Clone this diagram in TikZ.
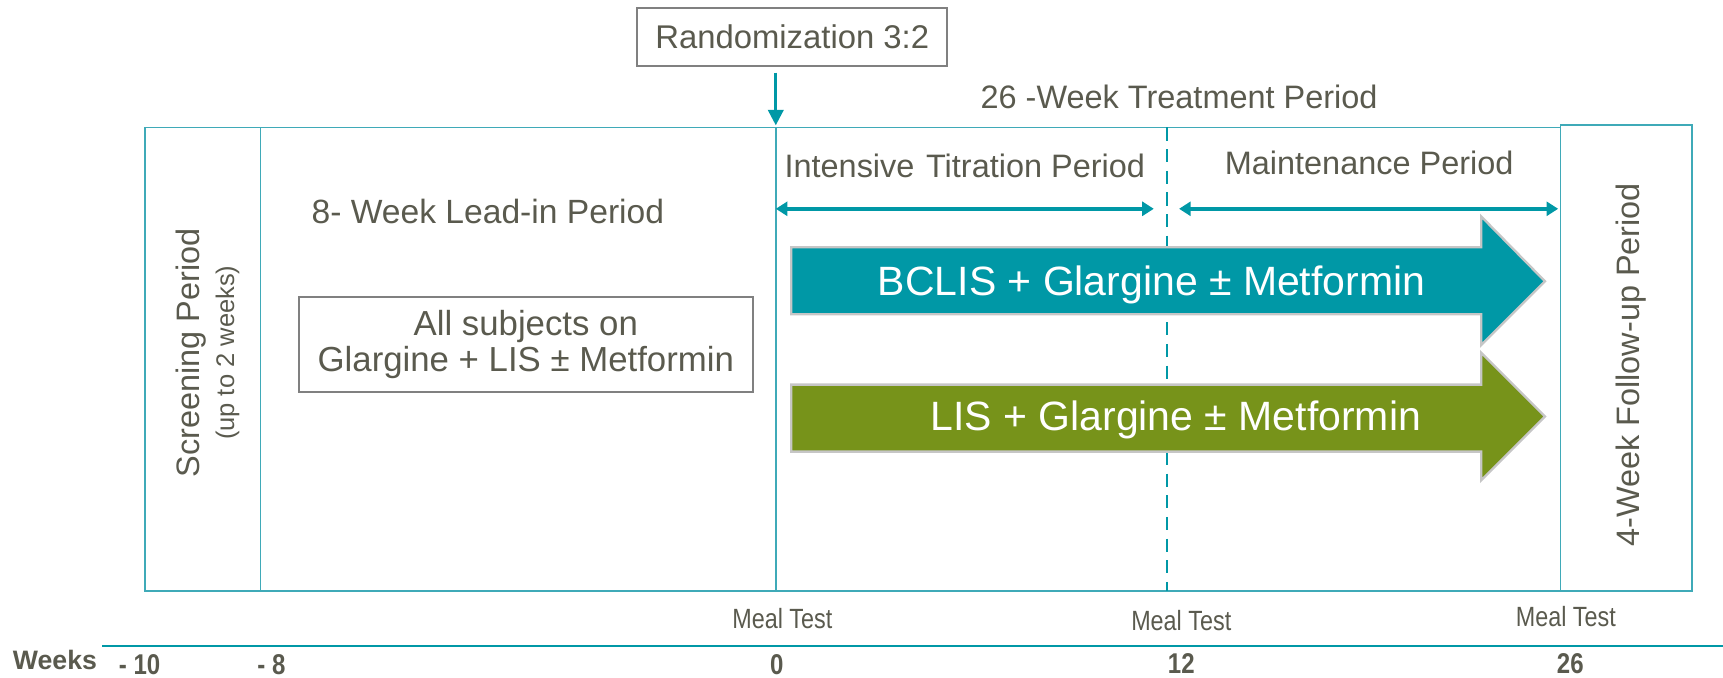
\documentclass[tikz,border=0pt]{standalone}
\usepackage{fontspec}
\setmainfont{Liberation Sans}
\newfontfamily\narrowfont[FakeStretch=0.84]{Liberation Sans}
\usetikzlibrary{positioning,arrows.meta}
\definecolor{studyteal}{HTML}{0098A6}
\definecolor{frameteal}{HTML}{3FAAB8}
\definecolor{studygreen}{HTML}{77931A}
\definecolor{txtgray}{HTML}{5A5A4E}
\tikzset{
  period/.style={text=txtgray, inner sep=0pt, font=\fontsize{8.4}{10}\selectfont},
  frame/.style={draw=frameteal, line width=0.45pt},
  greybox/.style={draw=gray, line width=0.45pt, text=txtgray, align=center, inner sep=0pt},
  span/.style={draw=studyteal, line width=0.9pt, {Triangle[length=3pt,width=3.6pt]}-{Triangle[length=3pt,width=3.6pt]}},
  armarrow/.style={draw=gray!45, line width=0.6pt},
  armtext/.style={text=white, inner sep=0pt, anchor=base, font=\fontsize{10.6}{12}\selectfont},
  mealtest/.style={text=txtgray, inner sep=0pt, font=\narrowfont\fontsize{7.2}{8}\selectfont},
  weeknum/.style={text=txtgray, inner sep=0pt, font=\narrowfont\bfseries\fontsize{7.4}{8}\selectfont}
}

\begin{document}
\begin{tikzpicture}[x=0.01cm, y=-0.01cm]
\useasboundingbox (0,0) rectangle (1568,617);
% periods
\draw[frame] (132,116) rectangle (1420,538);
\draw[frame] (237,116) -- (237,538);
\draw[frame] (706,116) -- (706,538);
\draw[frame] (1420,114) rectangle (1540,538);
\draw[studyteal, line width=0.75pt, dash pattern=on 3.4pt off 2.2pt] (1062,116) -- (1062,538);

\node[period, rotate=90] (screen) at (174,321) {Screening Period};
\node[period, rotate=90, font=\fontsize{6.6}{8}\selectfont] (screenlen) at (207,321) {(up to 2 weeks)};
\node[period, rotate=90] (followup) at (1484,332) {4-Week Follow-up Period};

\node[greybox, minimum width=2.82cm, minimum height=0.53cm, font=\fontsize{8.5}{10}\selectfont] (rand) at (721,33.5) {Randomization 3:2};
\node[period] (treat) at (1073,88) {26 -Week Treatment Period};
\node[period] (titr) at (878,151) {Intensive\hspace{0.08em} Titration Period};
\node[period] (maint) at (1246,148) {Maintenance Period};
\node[period, font=\fontsize{8.7}{10}\selectfont] (leadin) at (444,192) {8- Week Lead-in Period};
\node[greybox, minimum width=4.13cm, minimum height=0.87cm, font=\fontsize{9}{9.4}\selectfont] (allsub) at (478.5,313.5) {All subjects on\\Glargine + LIS ± Metformin};

\coordinate (rtip) at (706,114);
\draw[studyteal, line width=0.7pt, -{Triangle[length=4pt,width=4pt]}, shorten <=1.5pt] (rand.south -| rtip) -- (rtip);

\coordinate (itA) at (706,190);
\coordinate (itB) at (1050,190);
\coordinate (mpA) at (1073,190);
\coordinate (mpB) at (1418,190);
\draw[span] (itA) -- (itB);
\draw[span] (mpA) -- (mpB);

% treatment arms
\filldraw[armarrow, fill=studyteal] (720,225) -- (1348,225) -- (1348,197) -- (1406,256) -- (1348,314) -- (1348,286) -- (720,286) -- cycle;
\node[armtext] (bclis) at (1048,268.5) {BCLIS + Glargine ± Metformin};
\filldraw[armarrow, fill=studygreen] (720,350) -- (1348,350) -- (1348,321) -- (1406,379) -- (1348,437) -- (1348,411) -- (720,411) -- cycle;
\node[armtext] (lis) at (1070,391.5) {LIS + Glargine ± Metformin};

% time axis
\coordinate (axA) at (93,588);
\coordinate (axB) at (1568,588);
\draw[studyteal, line width=0.7pt] (axA) -- (axB);
\node[mealtest] (meal0) at (712,563) {Meal Test};
\node[mealtest] (meal12) at (1075,565) {Meal Test};
\node[mealtest] (meal26) at (1425,561) {Meal Test};
\node[weeknum, font=\bfseries\fontsize{6.9}{8}\selectfont] (weeks) at (50,601) {Weeks};
\node[weeknum] (wkA) at (127,605) {- 10};
\node[weeknum] (wkB) at (247,605) {- 8};
\node[weeknum] (wkC) at (707,605) {0};
\node[weeknum] (wkD) at (1075,604) {12};
\node[weeknum] (wkE) at (1429,604) {26};
\end{tikzpicture}
\end{document}
